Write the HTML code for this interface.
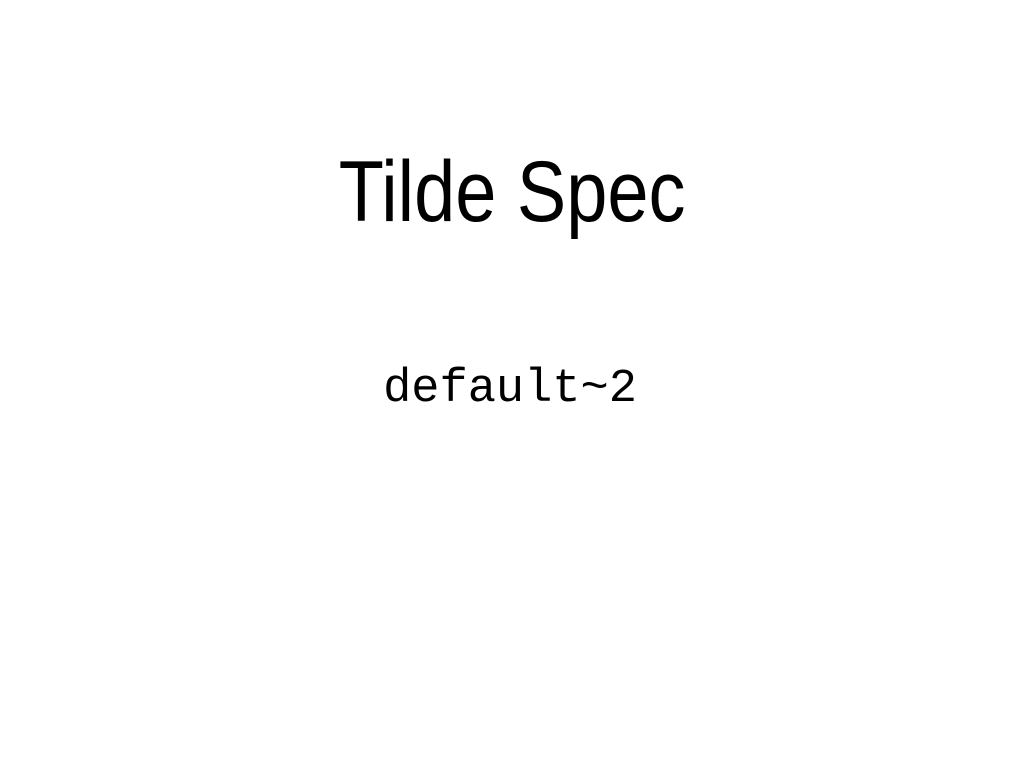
<!DOCTYPE html>
<html><head><meta charset="utf-8"><style>
html,body{margin:0;padding:0;background:#fff;width:1024px;height:768px;overflow:hidden;position:relative}
.t{position:absolute;left:0;width:1024px;text-align:center;line-height:1;color:#000;white-space:nowrap}
#title{top:149px;font-family:"Liberation Sans",sans-serif;font-size:86px;transform:scaleX(0.86);transform-origin:513px 0;}
#code{top:366px;font-family:"Liberation Mono",monospace;font-size:47px;left:-2px}
</style></head><body>
<div class="t" id="title">Tilde Spec</div>
<div class="t" id="code">default~2</div>
</body></html>
